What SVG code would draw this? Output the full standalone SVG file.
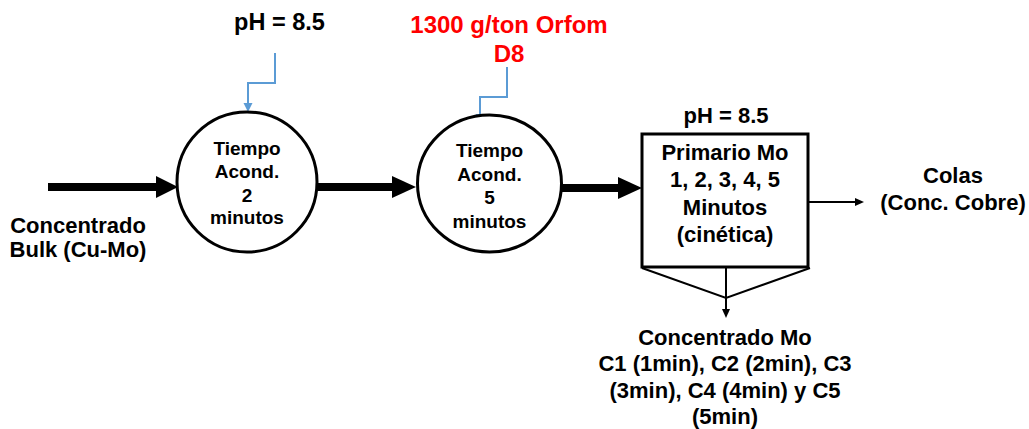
<svg xmlns="http://www.w3.org/2000/svg" width="1029" height="429" viewBox="0 0 1029 429">
<style>
text{font-family:"Liberation Sans",Arial,sans-serif;font-weight:bold;text-anchor:middle;fill:#000}
.lbl{font-size:22px}
.big{font-size:23.5px}
.red{fill:#ff0000;font-size:24px}
.cir{font-size:19px}
.node{fill:#fff;stroke:#000;stroke-width:3}
.thick{stroke:#000;stroke-width:8;fill:none}
.head{fill:#000}
.thin{stroke:#000;stroke-width:2;fill:none}
.blue{stroke:#5b9bd5;stroke-width:2;fill:none}
.bhead{fill:#5b9bd5}
</style>
<rect width="1029" height="429" fill="#fff"/>
<g id="connectors">
  <line class="thick" x1="48" y1="187" x2="158" y2="187"/>
  <polygon class="head" points="156,176 178,187 156,198"/>
  <line class="thick" x1="317" y1="187" x2="394" y2="187"/>
  <polygon class="head" points="392,176 416,187 392,198"/>
  <line class="thick" x1="562" y1="188" x2="620" y2="188"/>
  <polygon class="head" points="618,177 642,188 618,199"/>
  <polyline class="blue" points="275,53 275,83 248,83 248,105"/>
  <polygon class="bhead" points="243.5,103 252.5,103 248,112"/>
  <polyline class="blue" points="507,67 507,97 480,97 480,116"/>
  <polygon class="bhead" points="475.5,114 484.5,114 480,123"/>
  <line class="thin" x1="808" y1="202" x2="856" y2="202"/>
  <polygon class="head" points="855,198 864,202 855,206"/>
  <polyline class="thin" points="642,268 726,298 810,268"/>
  <line class="thin" x1="726" y1="268" x2="726" y2="310"/>
  <polygon class="head" points="722,309 726,318 730,309"/>
</g>
<g id="feed"><text class="lbl" x="78" y="233">Concentrado</text><text class="lbl" x="78" y="257">Bulk (Cu-Mo)</text></g>
<g id="ph1"><text class="big" x="279.5" y="30">pH = 8.5</text></g>
<g id="reagent"><text class="red" x="509" y="33">1300 g/ton Orfom</text><text class="red" x="509" y="62">D8</text></g>
<g id="cond1">
  <ellipse class="node" cx="247" cy="182" rx="70" ry="70"/>
  <text class="cir" x="247" y="155">Tiempo</text>
  <text class="cir" x="247" y="178">Acond.</text>
  <text class="cir" x="247" y="202">2</text>
  <text class="cir" x="247" y="224">minutos</text>
</g>
<g id="cond2">
  <ellipse class="node" cx="489.5" cy="183.5" rx="72" ry="68.5"/>
  <text class="cir" x="489.5" y="157">Tiempo</text>
  <text class="cir" x="489.5" y="181">Acond.</text>
  <text class="cir" x="489.5" y="204">5</text>
  <text class="cir" x="489.5" y="228">minutos</text>
</g>
<g id="primario">
  <text class="lbl" x="726" y="123">pH = 8.5</text>
  <rect class="node" x="642" y="134" width="166" height="133"/>
  <text class="lbl" x="725" y="160">Primario Mo</text>
  <text class="lbl" x="725" y="187">1, 2, 3, 4, 5</text>
  <text class="lbl" x="725" y="215">Minutos</text>
  <text class="lbl" x="725" y="242">(cinética)</text>
</g>
<g id="colas"><text class="lbl" x="953" y="183">Colas</text><text class="lbl" x="953" y="210">(Conc. Cobre)</text></g>
<g id="concmo">
  <text class="lbl" x="725" y="345">Concentrado Mo</text>
  <text class="lbl" x="725" y="371">C1 (1min), C2 (2min), C3</text>
  <text class="lbl" x="725" y="398">(3min), C4 (4min) y C5</text>
  <text class="lbl" x="725" y="424">(5min)</text>
</g>
</svg>
